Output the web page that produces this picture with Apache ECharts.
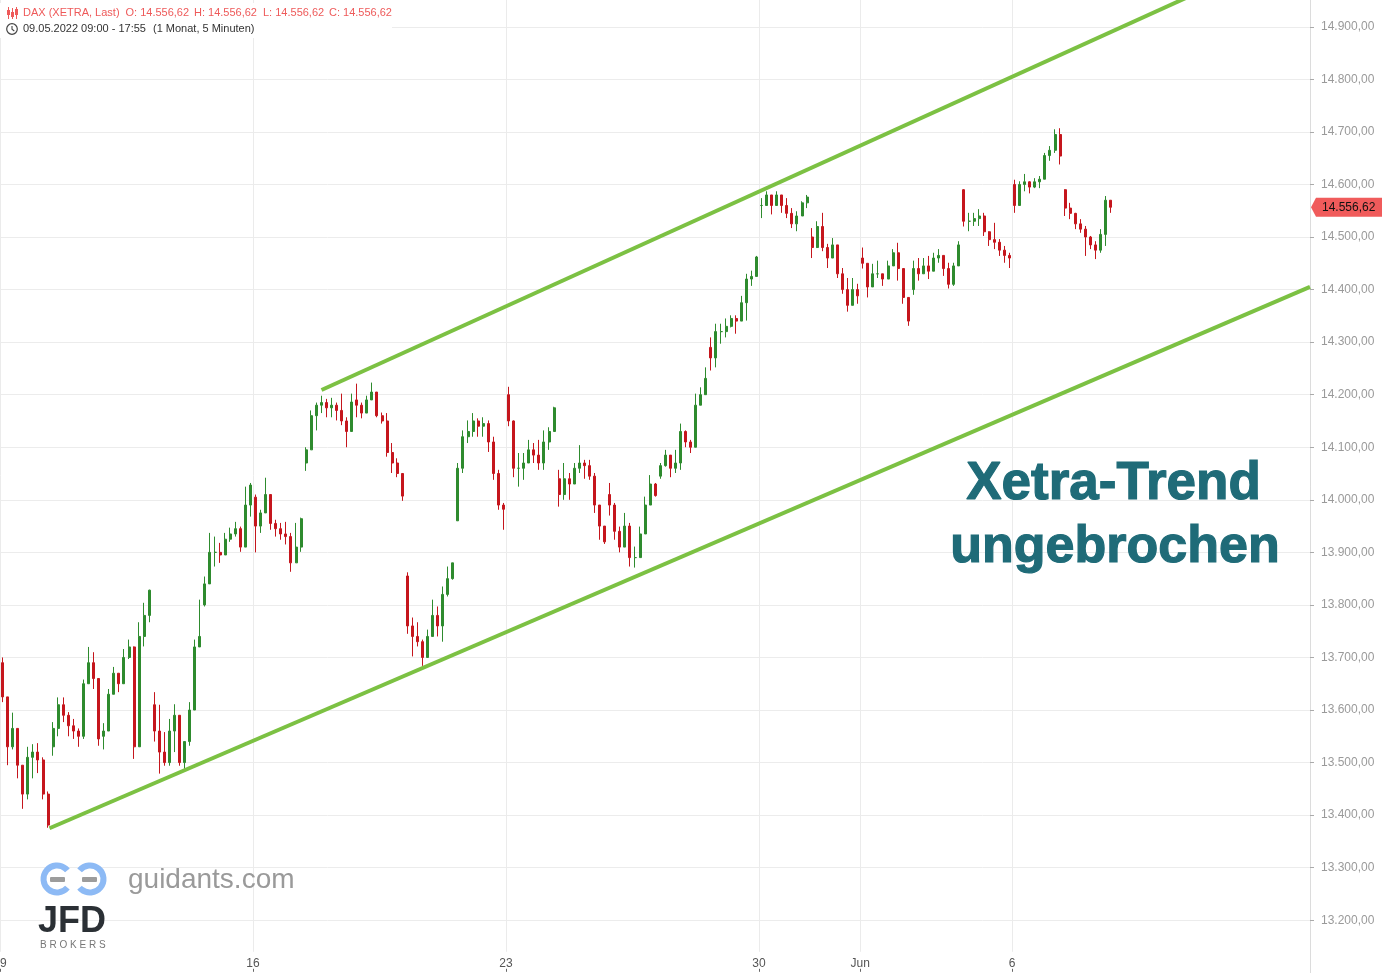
<!DOCTYPE html>
<html><head><meta charset="utf-8">
<script src="https://cdn.jsdelivr.net/npm/echarts@6/dist/echarts.min.js"></script>
<style>html,body{margin:0;padding:0;background:#fff;}#c{width:1382px;height:973px;}</style>
</head><body><div id="c"></div>
<script>
// ---- DATA ----
// Trading sessions 09.05.2022 .. 07.06.2022 (index 0..21), 10 candles per session
const sessions = ['09.05','10.05','11.05','12.05','13.05','16.05','17.05','18.05','19.05','20.05','23.05','24.05','25.05','26.05','27.05','30.05','31.05','01.06','02.06','03.06','06.06','07.06'];
const dayOpens = [13690,13530,13550,13610,13800,14005,14070,14190,13855,13960,14200,14040,14010,14045,14290,14560,14500,14460,14400,14590,14600,14590];
const highs = [
 [13700,13590,13595,13560,13485,13530,13535,13537,13510,13445],
 [13577,13624,13624,13596,13583,13565,13658,13720,13710,13658],
 [13575,13640,13682,13665,13716,13734,13721,13767,13804,13829],
 [13634,13610,13558,13583,13611,13560,13532,13615,13734,13810],
 [13854,13937,13930,13918,13937,13947,13958,13949,14025,14032],
 [14010,13981,14042,14005,13962,13956,13958,13937,13956,13966],
 [14100,14170,14185,14198,14192,14194,14185,14202,14157,14202],
 [14221,14185,14198,14223,14194,14166,14165,14108,14079,14051],
 [13862,13776,13767,13734,13753,13810,13797,13835,13873,13880],
 [14070,14132,14151,14165,14155,14157,14151,14120,14057,13994],
 [14215,14151,14089,14089,14114,14108,14114,14132,14138,14177],
 [14057,14070,14051,14070,14104,14076,14076,14051,13975,13949],
 [14032,13994,13949,13975,13956,13911,13949,14006,14047,14032],
 [14070,14095,14076,14095,14145,14132,14114,14202,14214,14252],
 [14309,14335,14335,14345,14351,14351,14388,14430,14436,14464],
 [14574,14587,14578,14587,14574,14574,14555,14549,14568,14580],
 [14517,14530,14546,14487,14498,14473,14441,14422,14422,14411],
 [14480,14449,14449,14455,14430,14455,14477,14489,14417,14385],
 [14455,14460,14460,14464,14470,14477,14464,14451,14451,14492],
 [14591,14546,14546,14553,14546,14511,14527,14496,14483,14470],
 [14609,14606,14620,14606,14612,14616,14660,14673,14705,14707],
 [14591,14565,14546,14534,14521,14502,14492,14515,14578,14568]
];
const lows = [
 [13615,13495,13525,13470,13412,13430,13470,13480,13430,13376],
 [13513,13550,13577,13550,13545,13530,13545,13658,13640,13532],
 [13525,13565,13640,13634,13665,13697,13507,13550,13721,13767],
 [13540,13479,13494,13494,13520,13494,13488,13532,13615,13734],
 [13797,13848,13873,13880,13905,13920,13930,13901,13930,13968],
 [13900,13937,13975,13943,13930,13924,13915,13863,13893,13901],
 [14055,14114,14132,14165,14157,14157,14151,14142,14100,14132],
 [14157,14155,14166,14190,14157,14145,14082,14051,14043,13998],
 [13745,13702,13721,13684,13702,13759,13740,13730,13816,13848],
 [13960,14051,14108,14120,14120,14120,14091,14038,13981,13943],
 [14140,14043,14025,14038,14070,14070,14057,14057,14095,14132],
 [13987,14000,14000,14038,14051,14040,14038,13975,13924,13916],
 [13970,13924,13900,13924,13873,13871,13905,13943,14013,14006],
 [14040,14063,14043,14051,14057,14100,14089,14100,14183,14214],
 [14246,14252,14297,14309,14328,14316,14341,14341,14407,14430],
 [14536,14563,14543,14563,14546,14536,14517,14511,14543,14555],
 [14460,14479,14473,14441,14468,14422,14392,14358,14379,14373],
 [14440,14385,14411,14422,14407,14422,14449,14417,14373,14331],
 [14390,14417,14436,14420,14445,14451,14426,14402,14407,14451],
 [14520,14511,14521,14521,14502,14483,14477,14464,14451,14441],
 [14546,14578,14587,14583,14593,14593,14616,14645,14660,14638],
 [14540,14534,14515,14508,14464,14477,14458,14470,14483,14546]
];
const closes = [
 [13625,13530,13565,13495,13440,13510,13520,13505,13440,13381],
 [13565,13610,13590,13570,13560,13550,13650,13690,13660,13545],
 [13560,13630,13670,13650,13700,13720,13530,13740,13780,13828],
 [13560,13520,13500,13560,13590,13500,13540,13600,13720,13740],
 [13840,13900,13900,13895,13925,13935,13945,13910,13990,14028],
 [13950,13975,14010,13955,13945,13935,13930,13880,13910,13964],
 [14095,14160,14180,14185,14175,14180,14170,14150,14130,14186],
 [14180,14165,14190,14205,14160,14150,14090,14070,14050,14007],
 [13760,13740,13730,13700,13740,13780,13760,13820,13850,13880],
 [14060,14120,14130,14150,14140,14145,14110,14050,13990,13982],
 [14150,14060,14060,14070,14095,14085,14070,14110,14130,14175],
 [14010,14040,14030,14060,14070,14065,14045,13990,13950,13920],
 [13990,13940,13910,13950,13890,13890,13935,13990,14030,14008],
 [14065,14085,14060,14070,14130,14110,14100,14180,14200,14231],
 [14270,14320,14320,14330,14345,14340,14375,14420,14425,14462],
 [14560,14580,14560,14580,14560,14545,14525,14540,14565,14576],
 [14480,14520,14480,14460,14485,14430,14400,14370,14400,14388],
 [14450,14405,14430,14430,14420,14445,14470,14440,14385,14340],
 [14440,14430,14445,14435,14460,14465,14440,14410,14445,14485],
 [14530,14530,14535,14540,14510,14495,14490,14475,14465,14460],
 [14560,14600,14605,14595,14605,14610,14655,14665,14695,14654],
 [14555,14545,14525,14515,14500,14485,14475,14505,14570,14556.62]
];
// x-axis tick labels at session indices
const tickDays = [0, 5, 10, 15, 17, 20];
const tickLabels = ['9', '16', '23', '30', 'Jun', '6'];
// trend channel lines [sessionIndex, price]
const upperTrend = [[6.354, 14209], [23.6, 14962]];
const lowerTrend = [[0.978, 13375], [25.889, 14405]];
const lastPrice = 14556.62;

// ---- BUILD ----
function de(v) {
  const s = Math.round(v * 100);
  const i = Math.floor(s / 100), f = s % 100;
  return String(i).replace(/\B(?=(\d{3})+(?!\d))/g, '.') + ',' + String(f).padStart(2, '0');
}
const candles = [];
for (let d = 0; d < closes.length; d++) {
  let prev = dayOpens[d];
  const n = closes[d].length;
  for (let k = 0; k < n; k++) {
    const o = prev, c = closes[d][k];
    const h = Math.max(highs[d][k], o, c), l = Math.min(lows[d][k], o, c);
    candles.push([d + (k + 0.5) / n, o, c, l, h]);
    prev = c;
  }
}

const chart = echarts.init(document.getElementById('c'), null, { renderer: 'canvas' });
const FONT = '"Liberation Sans", Arial, sans-serif';
chart.setOption({
  animation: false,
  backgroundColor: '#ffffff',
  grid: { left: 0, right: 72, top: -25.77, bottom: 0.2, containLabel: false, outerBoundsMode: 'none' },
  xAxis: {
    type: 'value', min: 0, max: 25.889, offset: -1,
    axisLine: { show: false, onZero: false },
    splitLine: { show: false },
    axisTick: { show: true, inside: true, length: 3, customValues: tickDays, lineStyle: { color: '#666' } },
    axisLabel: {
      show: true, inside: true, margin: 2, customValues: tickDays,
      alignMinLabel: 'left',
      formatter: v => tickLabels[tickDays.indexOf(Math.round(v))] || '',
      color: '#555', fontSize: 12, fontFamily: FONT
    }
  },
  yAxis: {
    type: 'value', position: 'right', min: 13100, max: 15000, interval: 100, scale: true,
    axisLine: { show: true, onZero: false, lineStyle: { color: '#dcdcdc' } },
    axisTick: { show: true, length: 4, lineStyle: { color: '#aaa' } },
    axisLabel: { margin: 11, color: '#9a9a9a', fontSize: 12, fontFamily: FONT, formatter: v => de(v), showMinLabel: false, showMaxLabel: false },
    splitLine: { show: true, lineStyle: { color: '#ececec', width: 1 } }
  },
  series: [
    {
      type: 'candlestick', name: 'DAX', data: candles, encode: { x: 0, y: [1, 2, 3, 4] },
      barWidth: 2.5, z: 3,
      itemStyle: { color: '#2e8b2e', color0: '#c5161d', borderColor: '#2e8b2e', borderColor0: '#c5161d', borderWidth: 1 },
      markLine: {
        silent: true, symbol: ['none', 'none'], z: 1, animation: false,
        label: { show: false },
        lineStyle: { color: '#ebebeb', width: 1, type: 'solid' },
        data: tickDays.map(v => [{ coord: [v, 13140] }, { coord: [v, 15000] }])
      }
    },
    { type: 'line', data: upperTrend, symbol: 'none', silent: true, z: 5, lineStyle: { color: '#7cc143', width: 4 } },
    { type: 'line', data: lowerTrend, symbol: 'none', silent: true, z: 5, lineStyle: { color: '#7cc143', width: 4 } }
  ]
});

const py = chart.convertToPixel({ yAxisIndex: 0 }, lastPrice);
const red = '#ee5a5a';
const teal = '#1f6b78';
const els = [
  { type: 'rect', shape: { x: 0, y: 3, width: 392, height: 35 }, style: { fill: '#fff' }, z: 20 },
  // candle icon
  { type: 'line', shape: { x1: 8.5, y1: 7, x2: 8.5, y2: 19 }, style: { stroke: red, lineWidth: 1 }, z: 21 },
  { type: 'rect', shape: { x: 7, y: 10, width: 3, height: 5 }, style: { fill: red }, z: 21 },
  { type: 'line', shape: { x1: 12.5, y1: 8, x2: 12.5, y2: 19 }, style: { stroke: red, lineWidth: 1 }, z: 21 },
  { type: 'rect', shape: { x: 11, y: 12, width: 3, height: 5 }, style: { fill: red }, z: 21 },
  { type: 'line', shape: { x1: 16.5, y1: 7, x2: 16.5, y2: 19 }, style: { stroke: red, lineWidth: 1 }, z: 21 },
  { type: 'rect', shape: { x: 15, y: 9, width: 3, height: 6 }, style: { fill: red }, z: 21 },
  { type: 'text', style: { text: 'DAX (XETRA, Last)', x: 23, y: 13, font: '11px ' + FONT, fill: red, verticalAlign: 'middle', textVerticalAlign: 'middle' }, z: 21 },
  { type: 'text', style: { text: 'O: ' + de(lastPrice), x: 125.5, y: 13, font: '11px ' + FONT, fill: red, verticalAlign: 'middle', textVerticalAlign: 'middle' }, z: 21 },
  { type: 'text', style: { text: 'H: ' + de(lastPrice), x: 194, y: 13, font: '11px ' + FONT, fill: red, verticalAlign: 'middle', textVerticalAlign: 'middle' }, z: 21 },
  { type: 'text', style: { text: 'L: ' + de(lastPrice), x: 263, y: 13, font: '11px ' + FONT, fill: red, verticalAlign: 'middle', textVerticalAlign: 'middle' }, z: 21 },
  { type: 'text', style: { text: 'C: ' + de(lastPrice), x: 329, y: 13, font: '11px ' + FONT, fill: red, verticalAlign: 'middle', textVerticalAlign: 'middle' }, z: 21 },
  // clock
  { type: 'circle', shape: { cx: 12, cy: 29, r: 5.3 }, style: { fill: 'none', stroke: '#444', lineWidth: 1.2 }, z: 21 },
  { type: 'polyline', shape: { points: [[12, 26], [12, 29.3], [14.3, 31]] }, style: { fill: 'none', stroke: '#444', lineWidth: 1.1 }, z: 21 },
  { type: 'text', style: { text: '09.05.2022 09:00 - 17:55', x: 23, y: 29, font: '11px ' + FONT, fill: '#333', verticalAlign: 'middle', textVerticalAlign: 'middle' }, z: 21 },
  { type: 'text', style: { text: '(1 Monat, 5 Minuten)', x: 153, y: 29, font: '11px ' + FONT, fill: '#333', verticalAlign: 'middle', textVerticalAlign: 'middle' }, z: 21 },
  // annotation
  { type: 'text', style: { text: 'Xetra-Trend', x: 1113.5, y: 484, font: 'bold 53px ' + FONT, fill: teal, stroke: teal, lineWidth: 1.2, align: 'center', textAlign: 'center', verticalAlign: 'middle', textVerticalAlign: 'middle' }, z: 21 },
  { type: 'text', style: { text: 'ungebrochen', x: 1115, y: 548, font: 'bold 52px ' + FONT, fill: teal, stroke: teal, lineWidth: 1.2, align: 'center', textAlign: 'center', verticalAlign: 'middle', textVerticalAlign: 'middle' }, z: 21 },
  // price tag on axis
  { type: 'polygon', shape: { points: [[1311, py], [1316, py - 9.5], [1382, py - 9.5], [1382, py + 9.5], [1316, py + 9.5]] }, style: { fill: '#f05b5b' }, z: 21 },
  { type: 'text', style: { text: de(lastPrice), x: 1322, y: py + 0.5, font: '12px ' + FONT, fill: '#111', verticalAlign: 'middle', textVerticalAlign: 'middle' }, z: 22 },
  // guidants logo
  { type: 'arc', shape: { cx: 57, cy: 879, r: 13.5, startAngle: Math.PI * 0.22, endAngle: Math.PI * 1.78, clockwise: true }, style: { fill: 'none', stroke: '#8dbaf5', lineWidth: 6 }, z: 21 },
  { type: 'arc', shape: { cx: 90, cy: 879, r: 13.5, startAngle: Math.PI * 1.22, endAngle: Math.PI * 0.78 + Math.PI * 2, clockwise: true }, style: { fill: 'none', stroke: '#8dbaf5', lineWidth: 6 }, z: 21 },
  { type: 'rect', shape: { x: 50, y: 877, width: 15, height: 5, r: 1 }, style: { fill: '#9c9c9c' }, z: 21 },
  { type: 'rect', shape: { x: 82, y: 877, width: 15, height: 5, r: 1 }, style: { fill: '#9c9c9c' }, z: 21 },
  { type: 'text', style: { text: 'guidants.com', x: 128, y: 880, font: '28px ' + FONT, fill: '#9a9a9a', verticalAlign: 'middle', textVerticalAlign: 'middle' }, z: 21 },
  { type: 'text', style: { text: 'JFD', x: 38, y: 922, font: 'bold 36px ' + FONT, fill: '#2b3035', verticalAlign: 'middle', textVerticalAlign: 'middle' }, z: 21 },
  { type: 'text', style: { text: 'B R O K E R S', x: 40, y: 945, font: '10px ' + FONT, fill: '#777', verticalAlign: 'middle', textVerticalAlign: 'middle' }, z: 21 }
];
chart.setOption({ graphic: { elements: els } });
</script></body></html>
